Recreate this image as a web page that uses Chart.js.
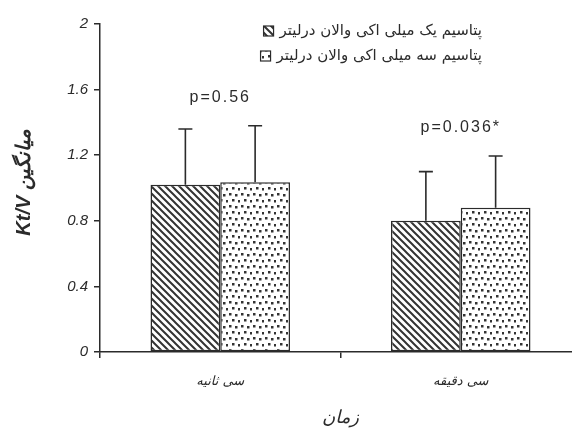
<!DOCTYPE html>
<html>
<head>
<meta charset="utf-8">
<script src="https://cdn.jsdelivr.net/npm/chart.js@4"></script>
<style>
  html, body { margin: 0; padding: 0; background: #fff; overflow: hidden; }
  #wrap { width: 572px; height: 429px; overflow: hidden; }
</style>
</head>
<body>
<div id="wrap"><canvas id="kvChart" width="581" height="429"></canvas></div>
<script>
// data
var categories = ['سی ثانیه', 'سی دقیقه'];
var seriesNames = ['پتاسیم یک میلی اکی والان درلیتر', 'پتاسیم سه میلی اکی والان درلیتر'];
var meanOneMeq = [1.02, 0.80];
var meanThreeMeq = [1.035, 0.88];
var sdOneMeq = [0.34, 0.30];
var sdThreeMeq = [0.345, 0.315];
var pLabels = ['p=0.56', 'p=0.036*'];
var yTickLabels = ['0', '0.4', '0.8', '1.2', '1.6', '2'];

var ink = '#2b2b2b';

function hatchPattern() {
    var c = document.createElement('canvas');
    c.width = 7; c.height = 7;
    var g = c.getContext('2d');
    g.fillStyle = '#fff';
    g.fillRect(0, 0, 7, 7);
    g.strokeStyle = '#333';
    g.lineWidth = 2;
    g.beginPath();
    g.moveTo(-1, -1); g.lineTo(8, 8);
    g.moveTo(-4, 3); g.lineTo(4, 11);
    g.moveTo(3, -4); g.lineTo(11, 4);
    g.stroke();
    return g.createPattern(c, 'repeat');
}

function dotPattern() {
    var c = document.createElement('canvas');
    c.width = 12; c.height = 12;
    var g = c.getContext('2d');
    g.fillStyle = '#fff';
    g.fillRect(0, 0, 12, 12);
    g.fillStyle = '#333';
    [[1, 1], [7, 2], [4, 7], [10, 8]].forEach(function(p) {
        g.fillRect(p[0], p[1], 2.5, 2.5);
    });
    return g.createPattern(c, 'repeat');
}

var errorBars = {
    id: 'errorBars',
    afterDatasetsDraw: function(chart) {
        var ctx = chart.ctx;
        var y = chart.scales.y;
        ctx.save();
        ctx.strokeStyle = ink;
        ctx.lineWidth = 1.6;
        chart.data.datasets.forEach(function(ds, i) {
            var meta = chart.getDatasetMeta(i);
            meta.data.forEach(function(bar, j) {
                var top = y.getPixelForValue(ds.data[j] + ds.sd[j]);
                ctx.beginPath();
                ctx.moveTo(bar.x, bar.y);
                ctx.lineTo(bar.x, top);
                ctx.moveTo(bar.x - 7, top);
                ctx.lineTo(bar.x + 7, top);
                ctx.stroke();
            });
        });
        ctx.restore();
    }
};

var pValues = {
    id: 'pValues',
    afterDatasetsDraw: function(chart) {
        var ctx = chart.ctx;
        var y = chart.scales.y;
        var x = chart.scales.x;
        ctx.save();
        ctx.fillStyle = ink;
        ctx.font = '16px "Liberation Sans", Arial, sans-serif';
        ctx.letterSpacing = '2px';
        ctx.textAlign = 'center';
        ctx.textBaseline = 'middle';
        pLabels.forEach(function(txt, j) {
            var hi = 0;
            chart.data.datasets.forEach(function(ds) {
                hi = Math.max(hi, ds.data[j] + ds.sd[j]);
            });
            ctx.fillText(txt, x.getPixelForValue(j), y.getPixelForValue(hi) - 28);
        });
        ctx.restore();
    }
};

var boxLegend = {
    id: 'boxLegend',
    afterDraw: function(chart) {
        var ctx = chart.ctx;
        ctx.save();
        ctx.font = '15px "DejaVu Sans", sans-serif';
        ctx.textBaseline = 'middle';
        ctx.direction = 'rtl';
        ctx.textAlign = 'right';
        chart.data.datasets.forEach(function(ds, i) {
            var rowY = 31 + i * 25;
            var w = ctx.measureText(ds.label).width;
            var right = 482;
            ctx.fillStyle = ink;
            ctx.fillText(ds.label, right, rowY);
            var bx = right - w - 16;
            ctx.fillStyle = ds.backgroundColor;
            ctx.fillRect(bx, rowY - 5, 10, 10);
            ctx.strokeStyle = ink;
            ctx.lineWidth = 1.2;
            ctx.strokeRect(bx, rowY - 5, 10, 10);
        });
        ctx.restore();
    }
};

var ctx = document.getElementById('kvChart').getContext('2d');
var chart = new Chart(ctx, {
    type: 'bar',
    data: {
        labels: categories,
        datasets: [{
            label: seriesNames[0],
            data: meanOneMeq,
            sd: sdOneMeq,
            backgroundColor: hatchPattern(),
            borderColor: ink,
            borderWidth: 1.5,
            borderSkipped: false,
            categoryPercentage: 0.58,
            barPercentage: 1
        }, {
            label: seriesNames[1],
            data: meanThreeMeq,
            sd: sdThreeMeq,
            backgroundColor: dotPattern(),
            borderColor: ink,
            borderWidth: 1.5,
            borderSkipped: false,
            categoryPercentage: 0.58,
            barPercentage: 1
        }]
    },
    options: {
        responsive: false,
        animation: false,
        layout: { padding: { top: 24, right: 0, left: 0, bottom: 0 } },
        plugins: {
            legend: { display: false },
            tooltip: { enabled: false }
        },
        scales: {
            x: {
                grid: { drawOnChartArea: false, offset: true, tickLength: 6, color: ink, lineWidth: 1.5 },
                border: { display: true, color: ink, width: 1.5 },
                ticks: {
                    color: ink,
                    padding: 16,
                    font: { family: '"DejaVu Sans", sans-serif', size: 13, style: 'italic' }
                },
                title: {
                    display: true,
                    text: 'زمان',
                    color: ink,
                    padding: { top: 4, bottom: 0 },
                    font: { family: '"DejaVu Sans", sans-serif', size: 18, style: 'italic' }
                },
                afterFit: function(s) { s.height = 77; }
            },
            y: {
                min: 0,
                max: 2,
                grid: { drawOnChartArea: false, tickLength: 6, color: ink, lineWidth: 1.5 },
                border: { display: true, color: ink, width: 1.5 },
                ticks: {
                    stepSize: 0.4,
                    color: ink,
                    padding: 6,
                    font: { family: '"Liberation Sans", Arial, sans-serif', size: 15, style: 'italic' },
                    callback: function(v, i) { return yTickLabels[i]; }
                },
                title: {
                    display: true,
                    text: '  Kt/V میانگین',
                    color: ink,
                    padding: { top: 12, bottom: 4 },
                    font: { family: '"Liberation Sans", "DejaVu Sans", sans-serif', size: 20, style: 'italic', weight: 'bold' }
                },
                afterFit: function(s) { s.width = 100; }
            }
        }
    },
    plugins: [errorBars, pValues, boxLegend]
});
</script>
</body>
</html>
